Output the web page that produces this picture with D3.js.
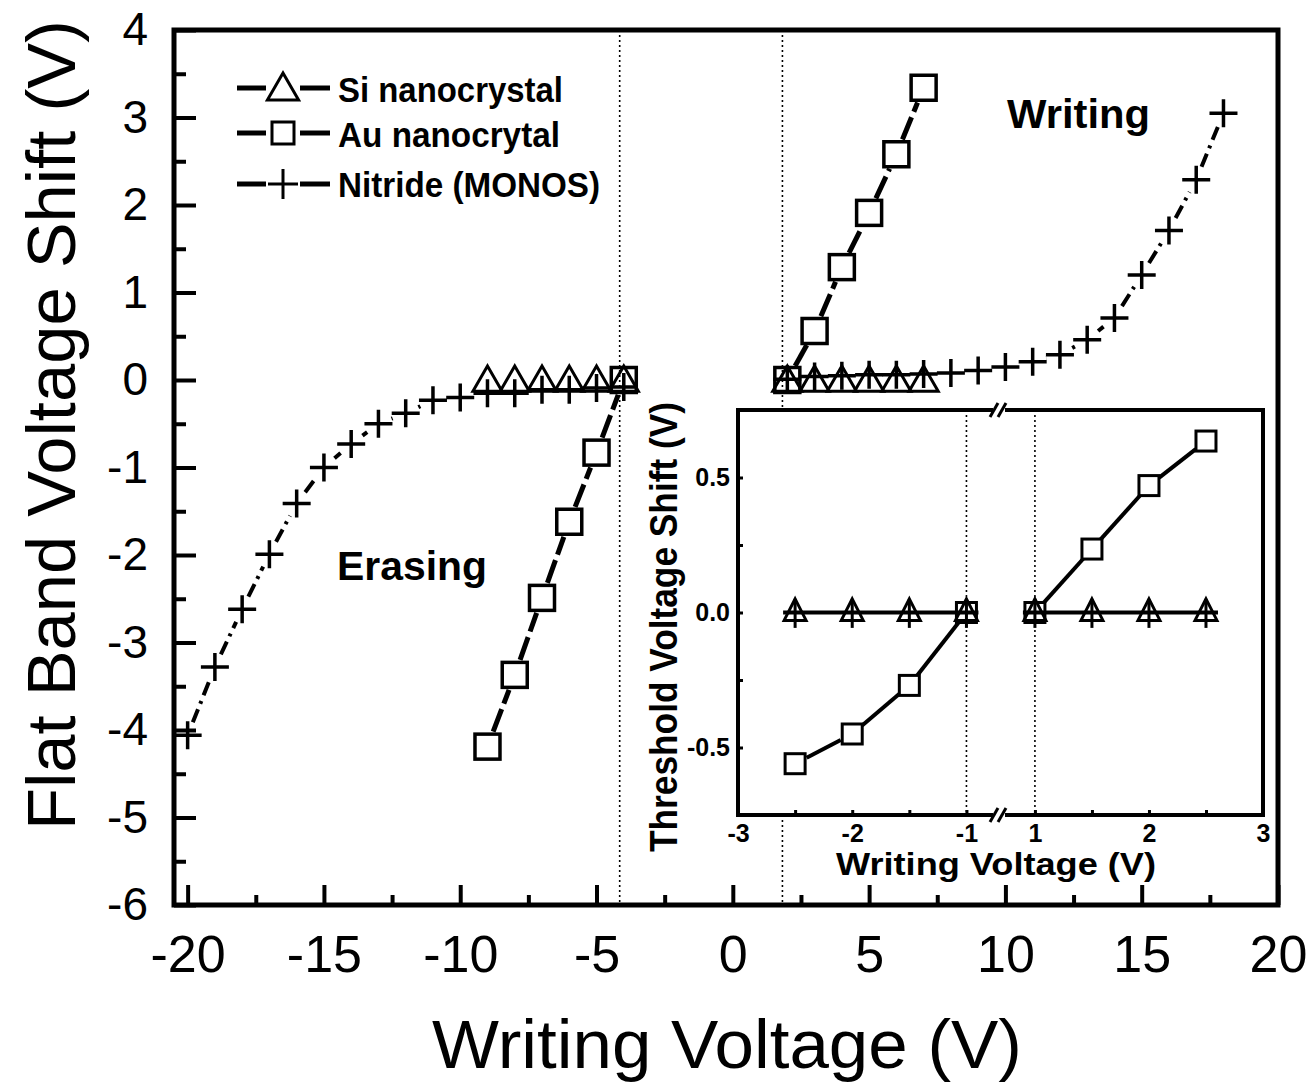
<!DOCTYPE html>
<html>
<head>
<meta charset="utf-8">
<script src="https://cdn.jsdelivr.net/npm/d3@7"></script>
<style>
  body { margin: 0; background: #fff; }
  text { font-family: "Liberation Sans", Arial, sans-serif; fill: #000; }
</style>
</head>
<body>
<script>
// ---- main plot data (writing voltage V, flat band shift V) ----
var siLeftX  = [-9, -8, -7, -6, -5, -4];
var siLeftY  = [0, 0, 0, 0, 0, 0];
var siRightX = [2, 3, 4, 5, 6, 7];
var siRightY = [0, 0, 0, 0, 0, 0];

var auLeftX  = [-9, -8, -7, -6, -5, -4];
var auLeftY  = [-4.19, -3.37, -2.49, -1.62, -0.83, 0];
var auRightX = [2, 3, 4, 5, 6, 7];
var auRightY = [0, 0.56, 1.29, 1.91, 2.58, 3.34];

var nitLeftX  = [-20, -19, -18, -17, -16, -15, -14, -13, -12, -11, -10, -9, -8, -7, -6, -5, -4];
var nitLeftY  = [-4.06, -3.28, -2.62, -1.99, -1.41, -1.0, -0.73, -0.50, -0.38, -0.23, -0.20, -0.15, -0.15, -0.11, -0.11, -0.09, -0.08];
var nitRightX = [2, 3, 4, 5, 6, 7, 8, 9, 10, 11, 12, 13, 14, 15, 16, 17, 18];
var nitRightY = [0.01, 0.04, 0.05, 0.06, 0.06, 0.07, 0.08, 0.11, 0.15, 0.21, 0.29, 0.46, 0.71, 1.2, 1.71, 2.29, 3.05];

var xTicks = [-20, -15, -10, -5, 0, 5, 10, 15, 20];
var xMinor = [-17.5, -12.5, -7.5, -2.5, 2.5, 7.5, 12.5, 17.5];
var yTicks = [-6, -5, -4, -3, -2, -1, 0, 1, 2, 3, 4];
var yMinor = [-5.5, -4.5, -3.5, -2.5, -1.5, -0.5, 0.5, 1.5, 2.5, 3.5];
var dottedX = [-4.15, 1.82];

var legendNames = ["Si nanocrystal", "Au nanocrytal", "Nitride (MONOS)"];

// ---- inset data (threshold voltage shift) ----
var inAuLeftX  = [-2.5, -2, -1.5, -1];
var inAuLeftY  = [-0.56, -0.45, -0.27, 0];
var inAuRightX = [1, 1.5, 2, 2.5];
var inAuRightY = [0, 0.235, 0.47, 0.635];
var inSiLeftX  = [-2.5, -2, -1.5, -1];
var inSiLeftY  = [0, 0, 0, 0];
var inSiRightX = [1, 1.5, 2, 2.5];
var inSiRightY = [0, 0, 0, 0];
var inXTicksL = [-3, -2, -1];
var inXTicksR = [1, 2, 3];
var inXMinorL = [-2.5, -1.5];
var inXMinorR = [1.5, 2.5];
var inYTicks = [-0.5, 0, 0.5];
var inYMinor = [-0.25, 0.25];
var inDottedX = [-1, 1];

var w = 1309, h = 1086;
var svg = d3.select("body").append("svg").attr("width", w).attr("height", h);

var x = d3.scaleLinear().domain([-20.5, 20]).range([174, 1278]);
var y = d3.scaleLinear().domain([-6, 4]).range([905, 30]);

// helpers
function pts(xs, ys, sx, sy) {
  return xs.map(function(v, i) { return [sx(v), sy(ys[i])]; });
}

// line between points, cut back near each marker
function gapLine(g, p, gap, width, dash) {
  for (var i = 0; i < p.length - 1; i++) {
    var dx = p[i+1][0] - p[i][0], dy = p[i+1][1] - p[i][1];
    var len = Math.sqrt(dx*dx + dy*dy);
    if (len <= 2 * gap) continue;
    var ux = dx / len, uy = dy / len;
    g.append("line")
      .attr("x1", p[i][0] + ux*gap).attr("y1", p[i][1] + uy*gap)
      .attr("x2", p[i+1][0] - ux*gap).attr("y2", p[i+1][1] - uy*gap)
      .attr("stroke", "#000").attr("stroke-width", width)
      .attr("stroke-dasharray", dash || null);
  }
}

function markers(g, p, type, s, sw) {
  p.forEach(function(c) {
    if (type == "square") {
      g.append("rect").attr("x", c[0]-s/2).attr("y", c[1]-s/2)
        .attr("width", s).attr("height", s)
        .attr("fill", "none").attr("stroke", "#000").attr("stroke-width", sw);
    } else if (type == "triangle") {
      g.append("path")
        .attr("d", "M" + c[0] + "," + (c[1]-s*0.5) + "L" + (c[0]+s*0.52) + "," + (c[1]+s*0.4) +
                   "L" + (c[0]-s*0.52) + "," + (c[1]+s*0.4) + "Z")
        .attr("fill", "none").attr("stroke", "#000").attr("stroke-width", sw)
        .attr("stroke-linejoin", "miter");
    } else if (type == "cross") {
      g.append("path")
        .attr("d", "M" + (c[0]-s/2) + "," + c[1] + "H" + (c[0]+s/2) +
                   "M" + c[0] + "," + (c[1]-s/2) + "V" + (c[1]+s/2))
        .attr("stroke", "#000").attr("stroke-width", sw);
    } else if (type == "tribar") {
      g.append("path")
        .attr("d", "M" + c[0] + "," + (c[1]-s*0.62) + "L" + (c[0]+s*0.5) + "," + (c[1]+s*0.36) +
                   "L" + (c[0]-s*0.5) + "," + (c[1]+s*0.36) + "Z")
        .attr("fill", "none").attr("stroke", "#000").attr("stroke-width", sw);
      g.append("line").attr("x1", c[0]).attr("x2", c[0])
        .attr("y1", c[1]-s*0.62).attr("y2", c[1]+s*0.7)
        .attr("stroke", "#000").attr("stroke-width", sw);
    }
  });
}

// ---- dotted guide lines ----
dottedX.forEach(function(v) {
  svg.append("line").attr("x1", x(v)).attr("x2", x(v)).attr("y1", 30).attr("y2", 905)
    .attr("stroke", "#000").attr("stroke-width", 1.6).attr("stroke-dasharray", "2,3");
});

// ---- axes ----
var fmt = function(d) { return String(d); };

svg.append("g").attr("transform", "translate(0,905)")
  .call(d3.axisBottom(x).tickValues(xMinor).tickSize(-10).tickFormat(""))
  .call(function(g) { g.select(".domain").remove(); g.selectAll("line").attr("stroke-width", 4); });
svg.append("g").attr("transform", "translate(0,905)")
  .call(d3.axisBottom(x).tickValues(xTicks).tickSize(-20).tickPadding(30).tickFormat(fmt))
  .call(function(g) {
    g.select(".domain").remove();
    g.selectAll("line").attr("stroke-width", 4);
    g.selectAll("text").attr("font-size", 52).attr("font-family", "Liberation Sans, Arial, sans-serif");
  });

svg.append("g").attr("transform", "translate(174,0)")
  .call(d3.axisLeft(y).tickValues(yMinor).tickSize(-12).tickFormat(""))
  .call(function(g) { g.select(".domain").remove(); g.selectAll("line").attr("stroke-width", 4); });
svg.append("g").attr("transform", "translate(174,0)")
  .call(d3.axisLeft(y).tickValues(yTicks).tickSize(-22).tickPadding(26).tickFormat(fmt))
  .call(function(g) {
    g.select(".domain").remove();
    g.selectAll("line").attr("stroke-width", 4);
    g.selectAll("text").attr("font-size", 46).attr("font-family", "Liberation Sans, Arial, sans-serif");
  });

// frame
svg.append("rect").attr("x", 174).attr("y", 30).attr("width", 1104).attr("height", 875)
  .attr("fill", "none").attr("stroke", "#000").attr("stroke-width", 5);

// ---- series ----
var plot = svg.append("g");
// nitride
gapLine(plot, pts(nitLeftX, nitLeftY, x, y), 14, 4, "14,6,3,6");
gapLine(plot, pts(nitRightX, nitRightY, x, y), 14, 4, "14,6,3,6");
markers(plot, pts(nitLeftX, nitLeftY, x, y), "cross", 28, 3.5);
markers(plot, pts(nitRightX, nitRightY, x, y), "cross", 28, 3.5);
// Au
gapLine(plot, pts(auLeftX, auLeftY, x, y), 16, 5, "24,6");
gapLine(plot, pts(auRightX, auRightY, x, y), 16, 5, "24,6");
markers(plot, pts(auLeftX, auLeftY, x, y), "square", 25, 3.5);
markers(plot, pts(auRightX, auRightY, x, y), "square", 25, 3.5);
// Si
markers(plot, pts(siLeftX, siLeftY, x, y), "triangle", 28, 3);
markers(plot, pts(siRightX, siRightY, x, y), "triangle", 28, 3);

// ---- legend ----
var legTypes = ["triangle", "square", "cross"];
var legY = [88, 133, 184];
var legBase = [102, 147, 197];
var legLen = [225, 222, 262];
legendNames.forEach(function(name, i) {
  var lg = svg.append("g");
  lg.append("line").attr("x1", 237).attr("x2", 266).attr("y1", legY[i]).attr("y2", legY[i])
    .attr("stroke", "#000").attr("stroke-width", 5);
  lg.append("line").attr("x1", 300).attr("x2", 330).attr("y1", legY[i]).attr("y2", legY[i])
    .attr("stroke", "#000").attr("stroke-width", 5);
  markers(lg, [[283, legY[i]]], legTypes[i], i == 1 ? 22 : 30, 3);
  lg.append("text").attr("x", 338).attr("y", legBase[i])
    .attr("font-size", 35).attr("font-weight", "bold")
    .attr("textLength", legLen[i]).attr("lengthAdjust", "spacingAndGlyphs")
    .text(name);
});

// annotations
svg.append("text").attr("x", 1007).attr("y", 128).attr("font-size", 40).attr("font-weight", "bold")
  .attr("textLength", 143).attr("lengthAdjust", "spacingAndGlyphs").text("Writing");
svg.append("text").attr("x", 337).attr("y", 580).attr("font-size", 40).attr("font-weight", "bold")
  .attr("textLength", 150).attr("lengthAdjust", "spacingAndGlyphs").text("Erasing");

// axis titles
svg.append("text").attr("x", 727).attr("y", 1068).attr("text-anchor", "middle")
  .attr("font-size", 68).attr("textLength", 590).attr("lengthAdjust", "spacingAndGlyphs")
  .text("Writing Voltage (V)");
svg.append("text").attr("transform", "translate(75,425) rotate(-90)").attr("text-anchor", "middle")
  .attr("font-size", 68).attr("textLength", 810).attr("lengthAdjust", "spacingAndGlyphs")
  .text("Flat Band Voltage Shift (V)");

// ---- inset ----
var iL = 738, iR = 1263, iT = 410, iB = 815, iBrk = 999;
var ixl = d3.scaleLinear().domain([-3, -0.715]).range([iL, iBrk]);
var ixr = d3.scaleLinear().domain([0.685, 3]).range([iBrk, iR]);
var iy = d3.scaleLinear().domain([-0.75, 0.75]).range([iB, iT]);

var inset = svg.append("g");
inset.append("rect").attr("x", iL).attr("y", iT).attr("width", iR - iL).attr("height", iB - iT)
  .attr("fill", "#fff");

// inset dotted lines
inset.append("line").attr("x1", ixl(inDottedX[0])).attr("x2", ixl(inDottedX[0])).attr("y1", iT).attr("y2", iB)
  .attr("stroke", "#000").attr("stroke-width", 1.6).attr("stroke-dasharray", "2,3");
inset.append("line").attr("x1", ixr(inDottedX[1])).attr("x2", ixr(inDottedX[1])).attr("y1", iT).attr("y2", iB)
  .attr("stroke", "#000").attr("stroke-width", 1.6).attr("stroke-dasharray", "2,3");

// inset ticks
function inTicks(g) { g.select(".domain").remove(); g.selectAll("line").attr("stroke-width", 3); 
  g.selectAll("text").attr("font-size", 25).attr("font-weight", "bold").attr("font-family", "Liberation Sans, Arial, sans-serif"); }
inset.append("g").attr("transform", "translate(0," + iB + ")")
  .call(d3.axisBottom(ixl).tickValues(inXTicksL.concat(inXMinorL)).tickSize(-5).tickPadding(9)
        .tickFormat(function(d) { return inXTicksL.indexOf(d) >= 0 ? String(d) : ""; }))
  .call(inTicks);
inset.append("g").attr("transform", "translate(0," + iB + ")")
  .call(d3.axisBottom(ixr).tickValues(inXTicksR.concat(inXMinorR)).tickSize(-5).tickPadding(9)
        .tickFormat(function(d) { return inXTicksR.indexOf(d) >= 0 ? String(d) : ""; }))
  .call(inTicks);
inset.append("g").attr("transform", "translate(" + iL + ",0)")
  .call(d3.axisLeft(iy).tickValues(inYTicks.concat(inYMinor)).tickSize(-5).tickPadding(8)
        .tickFormat(function(d) { return inYTicks.indexOf(d) >= 0 ? d.toFixed(1) : ""; }))
  .call(inTicks);

// inset frame with axis break
inset.append("rect").attr("x", iL).attr("y", iT).attr("width", iR - iL).attr("height", iB - iT)
  .attr("fill", "none").attr("stroke", "#000").attr("stroke-width", 4);
[iT, iB].forEach(function(yy) {
  inset.append("rect").attr("x", iBrk - 6).attr("y", yy - 4).attr("width", 12).attr("height", 8).attr("fill", "#fff");
  inset.append("line").attr("x1", iBrk - 9).attr("y1", yy + 7).attr("x2", iBrk - 1).attr("y2", yy - 7)
    .attr("stroke", "#000").attr("stroke-width", 3);
  inset.append("line").attr("x1", iBrk - 1).attr("y1", yy + 7).attr("x2", iBrk + 7).attr("y2", yy - 7)
    .attr("stroke", "#000").attr("stroke-width", 3);
});

// inset series
function siLine(xs, ys, sx) {
  inset.append("line").attr("x1", sx(xs[0]) - 12).attr("x2", sx(xs[xs.length-1]) + 12)
    .attr("y1", iy(ys[0])).attr("y2", iy(ys[0]))
    .attr("stroke", "#000").attr("stroke-width", 4);
}
siLine(inSiLeftX, inSiLeftY, ixl);
siLine(inSiRightX, inSiRightY, ixr);
gapLine(inset, pts(inAuLeftX, inAuLeftY, ixl, iy), 13, 4);
gapLine(inset, pts(inAuRightX, inAuRightY, ixr, iy), 13, 4);
markers(inset, pts(inSiLeftX, inSiLeftY, ixl, iy), "tribar", 22, 3);
markers(inset, pts(inSiRightX, inSiRightY, ixr, iy), "tribar", 22, 3);
markers(inset, pts(inAuLeftX, inAuLeftY, ixl, iy), "square", 20, 3);
markers(inset, pts(inAuRightX, inAuRightY, ixr, iy), "square", 20, 3);

// inset titles
inset.append("text").attr("x", 996).attr("y", 875).attr("text-anchor", "middle")
  .attr("font-size", 32).attr("font-weight", "bold")
  .attr("textLength", 320).attr("lengthAdjust", "spacingAndGlyphs").text("Writing Voltage (V)");
inset.append("text").attr("transform", "translate(677,627) rotate(-90)").attr("text-anchor", "middle")
  .attr("font-size", 38).attr("font-weight", "bold")
  .attr("textLength", 450).attr("lengthAdjust", "spacingAndGlyphs").text("Threshold Voltage Shift (V)");
</script>
</body>
</html>
